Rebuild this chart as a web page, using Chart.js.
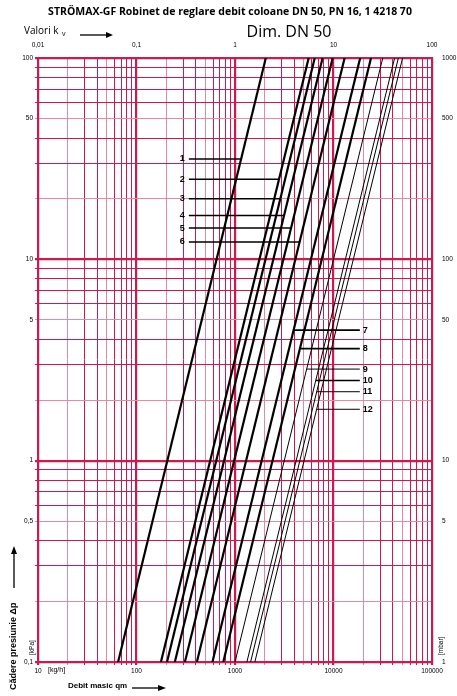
<!DOCTYPE html>
<html><head><meta charset="utf-8">
<script src="https://cdn.jsdelivr.net/npm/chart.js@4/dist/chart.umd.min.js"></script>
<style>html,body{margin:0;padding:0;background:#fff}#c{display:block}</style>
</head><body><canvas id="c" width="457" height="696"></canvas>
<script>
// flow at Δp = 0.1 kPa for each curve (kg/h)
const curveNames = ['1','2','3','4','5','6','7','8','9','10','11','12'];
const flowAt01 = [65,177,204,245,310,410,590,760,1000,1320,1440,1590];
const boldCurve = [true,true,true,true,true,true,true,true,false,false,false,false];
// label leaders: Δp (kPa) where leader sits, free-end flow (kg/h)
const labelDp = [31.5,25,20,16.5,14.3,12.2,4.45,3.6,2.85,2.5,2.2,1.8];
const labelEndFlow = [340,340,340,340,340,340,18500,18500,18500,18500,18500,18500];
const xTicks = [10,100,1000,10000,100000];
const kvTicks = [0.01,0.1,1,10,100];
const yTicks = [0.1,0.5,1,5,10,50,100];
const yTicksRight = [1,5,10,50,100,500,1000];
const fmt = v => String(v).replace('.',',');

const RED='#d0174e', LIGHT='#e58aa3';
function allTicks(min,max){const t=[];for(let d=min;d<max*1.001;d*=10){for(let k=1;k<10;k++){const v=d*k;if(v<=max*1.001)t.push({value:+v.toPrecision(6)});}}return t;}
function gridCol(ctx){const v=ctx.tick?ctx.tick.value:0;const m=Math.round(v/Math.pow(10,Math.floor(Math.log10(v)+1e-9)));return (m===2||m===5)?LIGHT:RED;}
function gridW(ctx){const v=ctx.tick?ctx.tick.value:1;const l=Math.log10(v);return Math.abs(l-Math.round(l))<1e-6?2.2:1;}

const datasets=[];
flowAt01.forEach((q0,i)=>{
  datasets.push({data:[{x:q0,y:0.1},{x:q0*Math.sqrt(1000),y:100}],borderColor:'#000',borderWidth:boldCurve[i]?2.2:1,pointRadius:0,showLine:true});
});
flowAt01.forEach((q0,i)=>{
  const qc=q0*Math.sqrt(labelDp[i]/0.1);
  datasets.push({data:[{x:labelEndFlow[i],y:labelDp[i]},{x:qc,y:labelDp[i]}],borderColor:'#000',borderWidth:i<8||i==9?1.6:1,pointRadius:0,showLine:true,lbl:curveNames[i],lside:i<6?'L':'R'});
});

const deco={id:'deco',afterDraw(ch){
  const c=ch.ctx;c.save();c.fillStyle='#000';
  const xs=ch.scales.x,ys=ch.scales.y;
  ch.data.datasets.forEach(d=>{if(!d.lbl)return;const p=d.data[0];const px=xs.getPixelForValue(p.x),py=ys.getPixelForValue(p.y);
    c.font='bold 9px Arial, "Liberation Sans"';c.textBaseline='middle';
    if(d.lside==='L'){c.textAlign='right';c.fillText(d.lbl,px-4,py);}else{c.textAlign='left';c.fillText(d.lbl,px+3,py);}});
  c.textAlign='center';c.textBaseline='middle';
  c.font='bold 10.5px "Open Sans", "Noto Sans"';c.fillText('STRÖMAX-GF Robinet de reglare debit coloane DN 50, PN 16, 1 4218 70',230,12);
  c.font='16px "Open Sans", "Noto Sans"';c.fillText('Dim. DN 50',289,32);
  c.textAlign='left';c.font='10px "Open Sans", "Noto Sans"';c.fillText('Valori k',24,31);
  c.font='7px "Open Sans"';c.fillText('v',62,34);
  c.lineWidth=1.3;c.beginPath();c.moveTo(80,35);c.lineTo(110,35);c.stroke();
  c.beginPath();c.moveTo(113,35);c.lineTo(106,32);c.lineTo(106,38);c.closePath();c.fill();
  c.font='bold 8px Arial, "Liberation Sans"';c.fillText('Debit masic qm',68,686);
  c.beginPath();c.moveTo(132,688);c.lineTo(160,688);c.stroke();
  c.beginPath();c.moveTo(166,688);c.lineTo(158,685);c.lineTo(158,691);c.closePath();c.fill();
  c.font='7px Arial';c.fillText('[kg/h]',48,670);
  c.save();c.translate(14,690);c.rotate(-Math.PI/2);c.font='bold 9px Arial, "Liberation Sans"';c.textAlign='left';
  c.fillText('Cădere presiunie Δp',0,0);c.beginPath();c.moveTo(102,0);c.lineTo(138,0);c.stroke();
  c.beginPath();c.moveTo(144,0);c.lineTo(136,-3);c.lineTo(136,3);c.closePath();c.fill();c.restore();
  c.font='6.5px Arial';c.save();c.translate(32,655);c.rotate(-Math.PI/2);c.fillText('[kPa]',0,0);c.restore();
  c.save();c.translate(441,655);c.rotate(-Math.PI/2);c.fillText('[mbar]',0,0);c.restore();
  c.restore();
}};

new Chart(document.getElementById('c'),{type:'scatter',data:{datasets},
 plugins:[deco],
 options:{responsive:false,animation:false,events:[],layout:{padding:0},
  plugins:{legend:{display:false},tooltip:{enabled:false}},
  scales:{
   x:{type:'logarithmic',position:'bottom',min:10,max:100000,
     afterBuildTicks:s=>{s.ticks=allTicks(10,100000);},afterFit:s=>{s.height=34;},
     grid:{color:gridCol,lineWidth:gridW,drawTicks:true,tickLength:3},border:{color:RED,width:2},
     ticks:{autoSkip:false,maxRotation:0,font:{size:6.5,family:'Arial'},color:'#000',padding:2,callback:v=>xTicks.includes(v)?String(v):''}},
   x2:{type:'logarithmic',position:'top',min:0.01,max:100,
     afterBuildTicks:s=>{s.ticks=kvTicks.map(v=>({value:v}));},afterFit:s=>{s.height=58;},
     grid:{display:false},border:{color:RED,width:2},
     ticks:{autoSkip:false,maxRotation:0,font:{size:6.5,family:'Arial'},color:'#000',padding:1,callback:v=>fmt(v)}},
   y:{type:'logarithmic',position:'left',min:0.1,max:100,
     afterBuildTicks:s=>{s.ticks=allTicks(0.1,100);},afterFit:s=>{s.width=38;},
     grid:{color:gridCol,lineWidth:gridW,tickLength:3},border:{color:RED,width:2},
     ticks:{autoSkip:false,font:{size:6.5,family:'Arial'},color:'#000',padding:2,callback:v=>yTicks.some(t=>Math.abs(t-v)<1e-9)?fmt(v):''}},
   y2:{type:'logarithmic',position:'right',min:1,max:1000,
     afterBuildTicks:s=>{s.ticks=yTicksRight.map(v=>({value:v}));},afterFit:s=>{s.width=25;},
     grid:{display:false},border:{color:RED,width:2},
     ticks:{autoSkip:false,font:{size:6.5,family:'Arial'},color:'#000',padding:2,callback:v=>String(v)}}
  }}});
</script></body></html>
